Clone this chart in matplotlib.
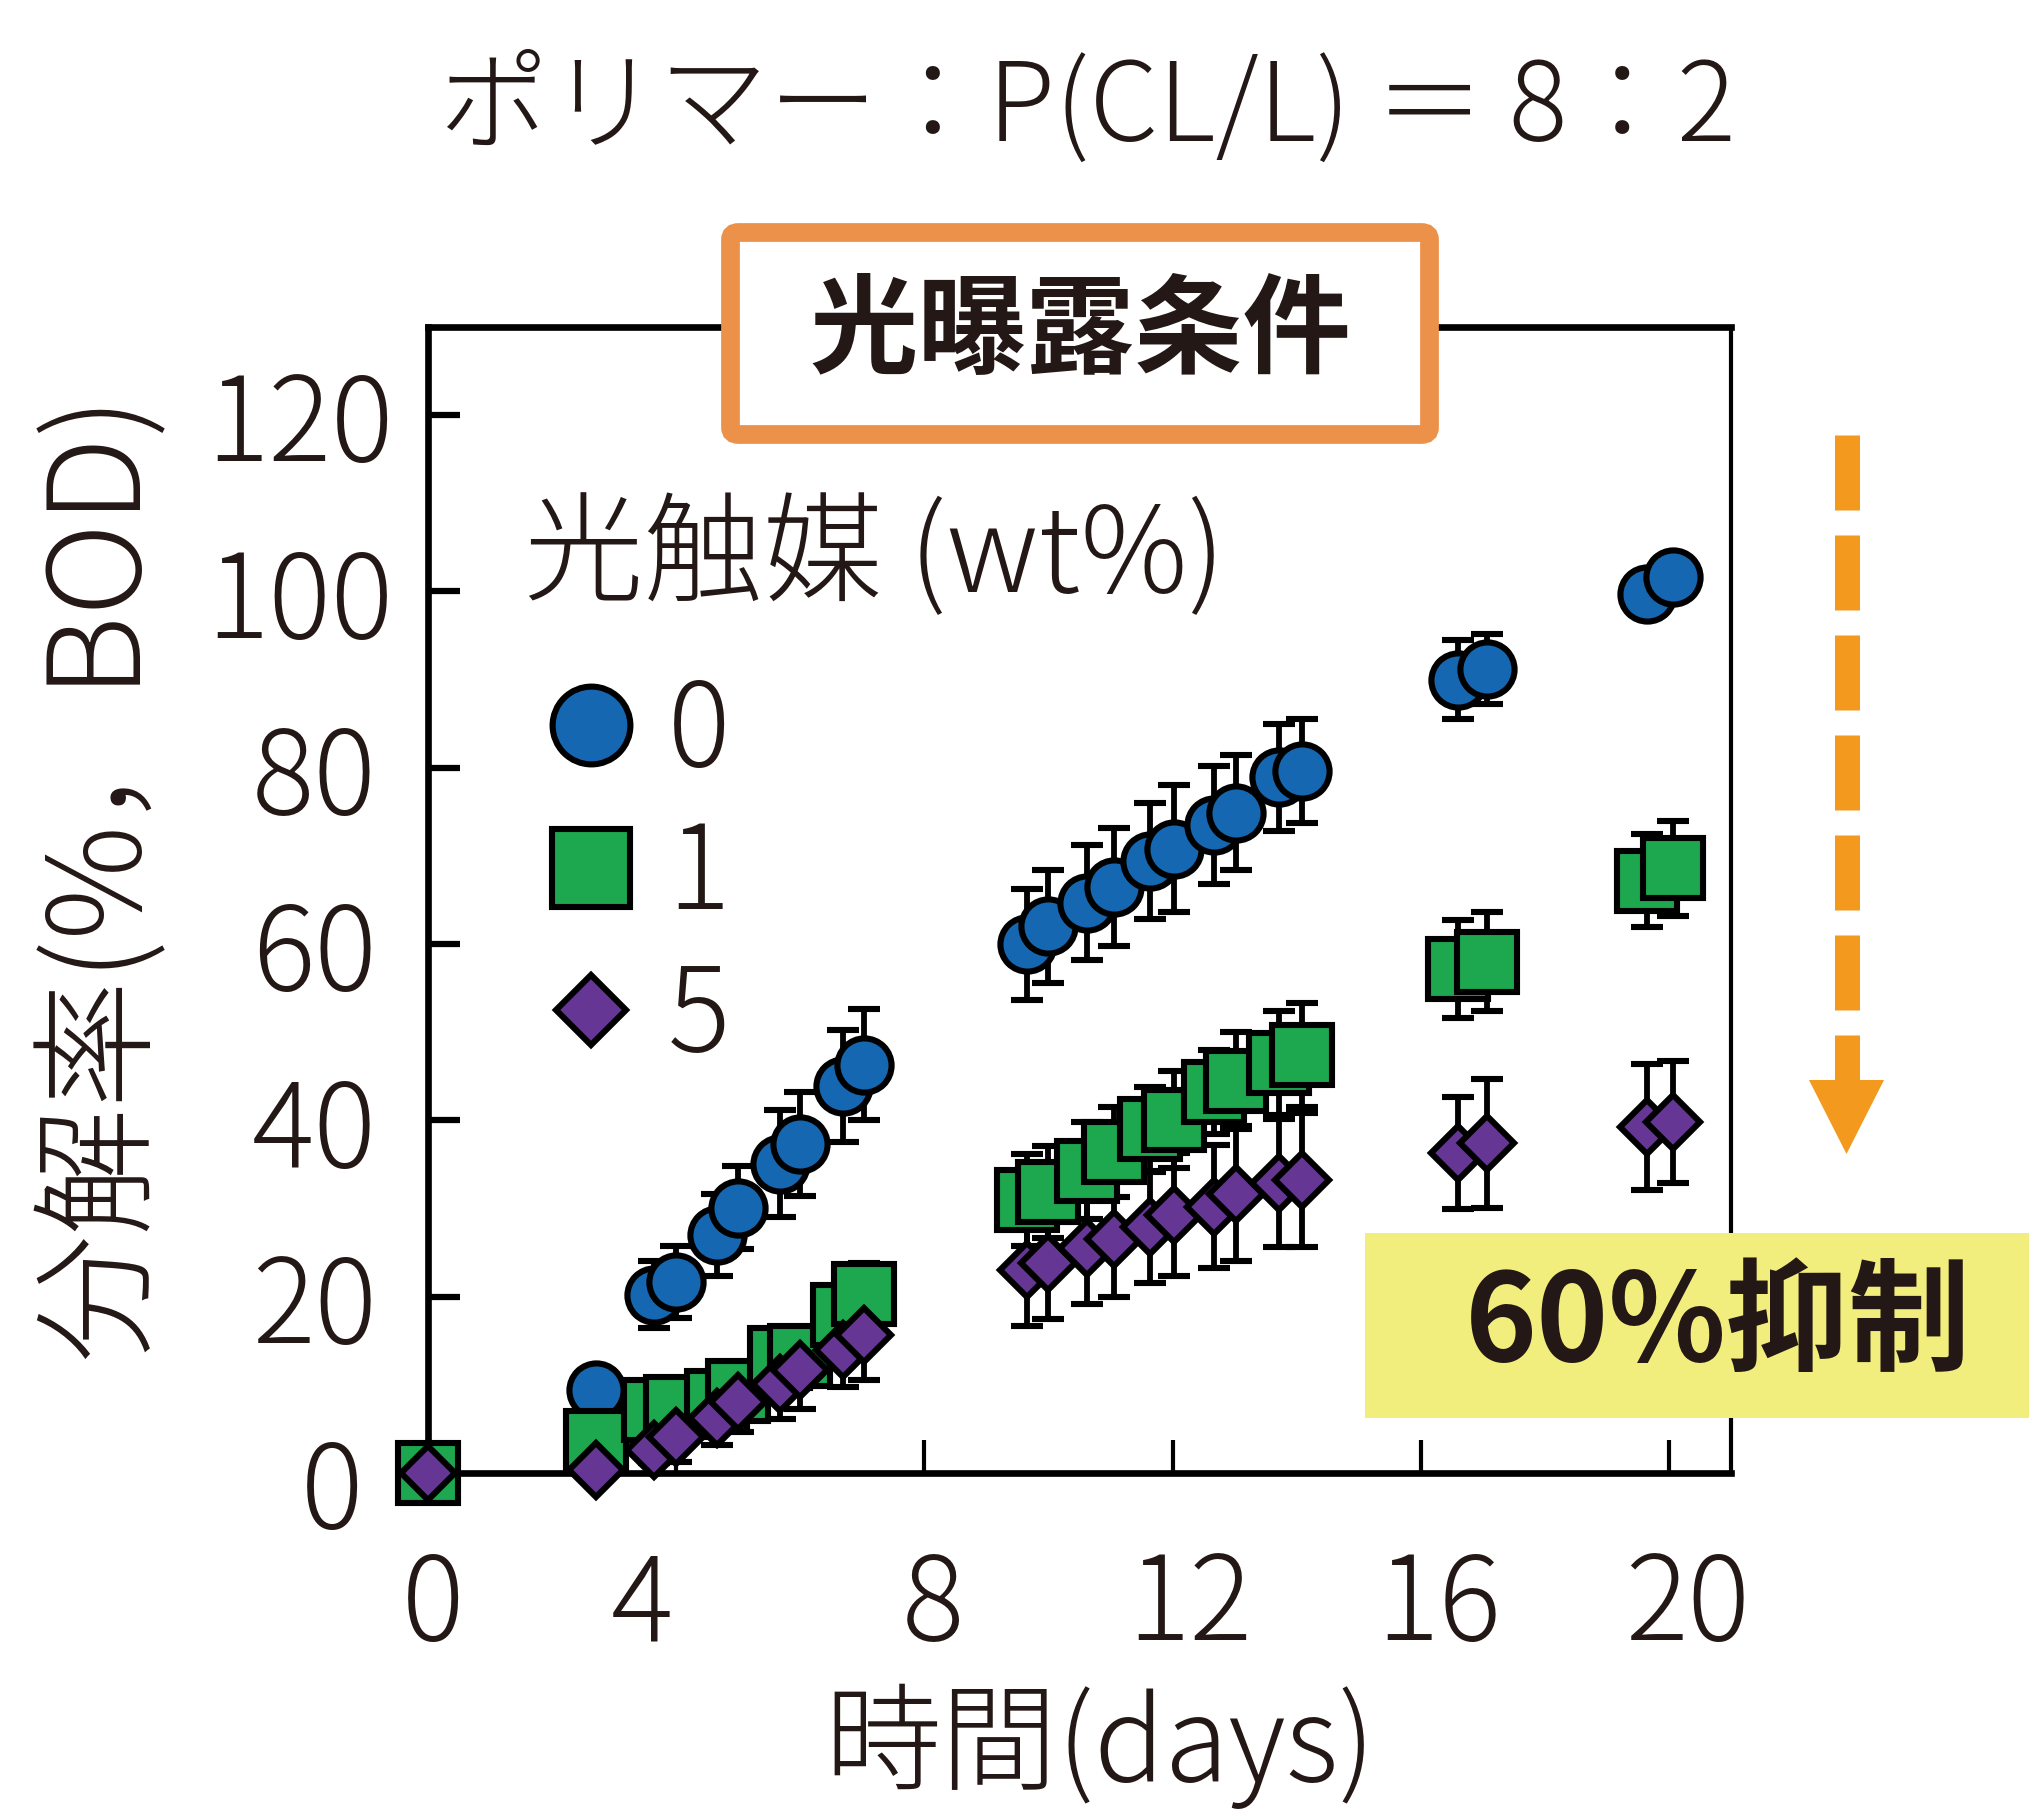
import matplotlib
matplotlib.use('Agg')
import matplotlib.pyplot as plt
from matplotlib.lines import Line2D
from matplotlib.patches import FancyBboxPatch, Rectangle, Polygon
from matplotlib.transforms import ScaledTranslation

plt.rcParams['font.family'] = ['Noto Sans CJK JP', 'DejaVu Sans']
plt.rcParams['font.weight'] = 'light'
plt.rcParams['axes.labelweight'] = 'light'

# ---------------- data ----------------
days = [0, 2.7, 3.65, 4.0, 4.65, 5.0, 5.67, 6.0, 6.69, 7.02,
        9.66, 10.0, 10.62, 11.05, 11.64, 12.02, 12.66, 13.02, 13.71, 14.08,
        16.6, 17.07, 19.65, 20.07]

cat0_vals = [0, 9.4, 20.2, 21.7, 27.0, 30.1, 35.1, 37.3, 43.9, 46.3,
             60.0, 62.0, 64.7, 66.5, 69.4, 70.8, 73.5, 74.9, 78.9, 79.6,
             90.0, 91.2, 99.7, 101.6]
cat0_err = [0, 1.0, 3.8, 4.1, 4.6, 4.7, 6.1, 5.9, 6.3, 6.3,
            6.3, 6.4, 6.5, 6.7, 6.6, 7.2, 6.7, 6.5, 6.1, 5.9,
            4.5, 4.0, 1.5, 1.5]

cat1_vals = [0, 3.6, 7.2, 7.5, 8.2, 9.3, 13.1, 13.3, 17.9, 20.3,
             31.0, 31.9, 34.3, 36.4, 39.0, 40.1, 43.2, 44.5, 46.5, 47.4,
             57.15, 58.0, 67.2, 68.6]
cat1_err = [0, 1.0, 1.5, 1.5, 1.5, 1.5, 2.5, 2.5, 3.0, 3.5,
            5.2, 5.2, 5.5, 5.1, 4.8, 5.5, 4.8, 5.5, 5.9, 5.9,
            5.55, 5.6, 5.3, 5.4]

cat5_vals = [0, 0.3, 2.6, 4.1, 6.2, 8.1, 10.1, 11.7, 13.9, 15.6,
             23.0, 23.8, 25.5, 26.6, 27.9, 29.3, 30.2, 31.7, 32.9, 33.25,
             36.35, 37.4, 39.25, 39.8]
cat5_err = [0, 0.5, 1.5, 2.8, 3.0, 3.5, 4.0, 4.4, 4.1, 5.1,
            6.3, 6.3, 6.3, 6.6, 6.4, 7.0, 7.0, 7.7, 7.3, 7.6,
            6.35, 7.3, 7.15, 6.9]

legend_labels = ['0', '1', '5']
legend_title = '光触媒 (wt%)'
xticks = [0, 4, 8, 12, 16, 20]
yticks = [0, 20, 40, 60, 80, 100, 120]

title_text = 'ポリマー：P(CL/L) ＝ 8：2'
box_text = '光曝露条件'
note_text = '60%抑制'
xlabel_text = '時間(days)'
ylabel_text = '分解率(%，BOD)'

# ---------------- style ----------------
TXT = '#231815'
BLUE = '#1467B0'
GREEN = '#1DA74F'
PURPLE = '#663694'
ORANGE_BOX = '#EC914A'
ORANGE_ARROW = '#F39A1E'
YELLOW = '#F2EE7E'

W, H = 2029, 1814
fig = plt.figure(figsize=(W / 100, H / 100), dpi=100)
fig.patch.set_facecolor('white')

L, R, T, B = 428, 1731, 327, 1473
ax = fig.add_axes([L / W, 1 - B / H, (R - L) / W, (B - T) / H])
ax.set_xlim(0, 21)
ax.set_ylim(0, 130)

MEW = 4.4
series = [
    (cat0_vals, cat0_err, 'o', BLUE, 39.0),
    (cat1_vals, cat1_err, 's', GREEN, 43.0),
    (cat5_vals, cat5_err, 'D', PURPLE, 27.5),
]

for vals, err, m, c, ms in series:
    ax.errorbar(days, vals, yerr=err, fmt='none', ecolor='black',
                elinewidth=4.2, capsize=11.5, capthick=4.4, zorder=2)

for i, (vals, err, m, c, ms) in enumerate(series):
    ax.plot(days, vals, ls='none', marker=m, ms=ms, mfc=c, mec='black',
            mew=MEW, zorder=3 + i, clip_on=False)

# spines
for side in ['left', 'bottom', 'top']:
    ax.spines[side].set_linewidth(4.8)
ax.spines['right'].set_linewidth(3.0)

ax.set_xticks(xticks)
ax.set_yticks(yticks)
ax.tick_params(axis='y', direction='in', length=23, width=4.5, pad=37,
               labelsize=84, labelcolor=TXT)
ax.tick_params(axis='x', direction='in', length=24, width=3.0, pad=54,
               labelsize=84, labelcolor=TXT)

# small label offsets as in the original artwork (pixels)
x_dx = [5, -34, 9, 17, 18, 19]
for t, dx in zip(ax.xaxis.get_major_ticks(), x_dx):
    t.label1.set_transform(t.label1.get_transform() +
                           ScaledTranslation(dx / 100, 0, fig.dpi_scale_trans))
y_off = [(-13, -9), (0, 0), (0, 0), (0, 0), (0, 0), (17, 0), (17, 0)]
for t, (dx, dy) in zip(ax.yaxis.get_major_ticks(), y_off):
    t.label1.set_transform(t.label1.get_transform() +
                           ScaledTranslation(dx / 100, dy / 100, fig.dpi_scale_trans))

ax.set_xlabel(xlabel_text, fontsize=84, color=TXT, va='center', fontweight='light')
ax.xaxis.set_label_coords((1100 - L) / (R - L), (B - 1746) / (B - T))
ax.set_ylabel(ylabel_text, fontsize=92, color=TXT, va='center', fontweight='light')
ax.yaxis.set_label_coords((102 - L) / (R - L), (B - 876) / (B - T))

# legend
handles = [
    Line2D([], [], ls='none', marker='o', ms=56, mfc=BLUE, mec='black', mew=MEW),
    Line2D([], [], ls='none', marker='s', ms=56, mfc=GREEN, mec='black', mew=MEW),
    Line2D([], [], ls='none', marker='D', ms=36, mfc=PURPLE, mec='black', mew=MEW),
]
leg = ax.legend(handles, legend_labels, title=legend_title, title_fontsize=86,
                fontsize=84, frameon=False, loc='upper left',
                bbox_to_anchor=(524 / W, 1 - 498 / H), bbox_transform=fig.transFigure,
                handlelength=1.15, handletextpad=0.08, labelspacing=0.19,
                borderpad=0, borderaxespad=0, alignment='left')
leg._legend_box.sep = 0.19 * 84 + 22
for txt in leg.get_texts():
    txt.set_color(TXT)
leg.get_title().set_color(TXT)

# title
fig.text(1087 / W, 1 - 110 / H, title_text, ha='center', va='center',
         fontsize=79, color=TXT)

# condition box
bx0, by0, bx1, by1 = 730.5, 232.5, 1429.5, 434.5
box = FancyBboxPatch((bx0 / W, 1 - by1 / H), (bx1 - bx0) / W, (by1 - by0) / H,
                     boxstyle='round,pad=0,rounding_size=0.004',
                     transform=fig.transFigure, facecolor='white',
                     edgecolor=ORANGE_BOX, linewidth=13.5, zorder=10)
fig.add_artist(box)
fig.text(1080 / W, 1 - 334 / H, box_text, ha='center', va='center',
         fontsize=78, fontweight='bold', color=TXT, zorder=11)

# yellow note box
ybox = Rectangle((1365 / W, 1 - 1418 / H), (W - 1365) / W, (1418 - 1233) / H,
                 transform=fig.transFigure, facecolor=YELLOW, edgecolor='none',
                 zorder=10)
fig.add_artist(ybox)
fig.text(1718 / W, 1 - 1326 / H, note_text, ha='center', va='center',
         fontsize=88, fontweight='bold', color=TXT, zorder=11)

# dashed arrow
ax_x = 1846.5 / W
shaft = Line2D([ax_x, ax_x], [1 - 435 / H, 1 - 1080 / H], transform=fig.transFigure,
               color=ORANGE_ARROW, linewidth=18, linestyle=(0, (3.0, 1.0)),
               solid_capstyle='butt', dash_capstyle='butt', zorder=10)
fig.add_artist(shaft)
head = Polygon([(1809 / W, 1 - 1080 / H), (1884 / W, 1 - 1080 / H),
                (1846.5 / W, 1 - 1154 / H)], closed=True, transform=fig.transFigure,
               facecolor=ORANGE_ARROW, edgecolor='none', zorder=10)
fig.add_artist(head)

fig.savefig('out.png', dpi=100, facecolor='white')
